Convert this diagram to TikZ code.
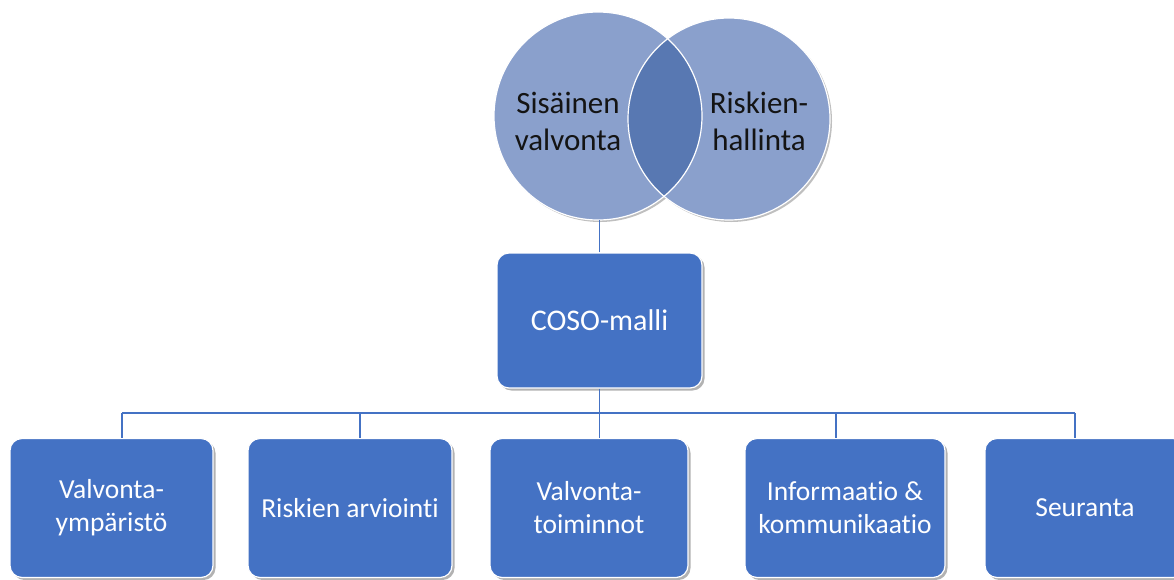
\documentclass[tikz,border=0pt]{standalone}
\usepackage{fontspec}
\setmainfont{Carlito}[Ligatures=NoCommon]
\usetikzlibrary{shadows}
\definecolor{boxblue}{RGB}{68,114,196}
\definecolor{circfill}{RGB}{138,160,204}
\definecolor{circdark}{RGB}{88,120,178}
\definecolor{linecol}{RGB}{68,114,196}
\definecolor{txtdark}{RGB}{20,20,20}
\begin{document}
\begin{tikzpicture}[x=1pt,y=-1pt,
  bluebox/.style={draw=white,line width=1.2pt,fill=boxblue,rounded corners=12pt,
    text=white,align=center,inner sep=0pt,
    drop shadow={shadow xshift=2.5pt,shadow yshift=-2.5pt,fill=black,opacity=.3}},
  venn/.style={circle,fill=circfill,inner sep=0pt,
    drop shadow={shadow xshift=2pt,shadow yshift=-2pt,fill=black,opacity=.25}},
  vennline/.style={draw=white,line width=1.2pt},
  venntext/.style={text=txtdark,align=center,font=\fontsize{31}{37}\selectfont},
  conn/.style={draw=linecol,line width=1.6pt},
  small/.style={font=\fontsize{27.5}{33}\selectfont},
]
\useasboundingbox[fill=white] (0,0) rectangle (1174,579);

% Venn circles
\node[venn,minimum size=208pt] (sv) at (598,116) {};
\node[venn,minimum size=202pt] (rh) at (729,119) {};
\begin{scope}
  \clip (598,116) circle (104);
  \fill[circdark] (729,119) circle (101);
\end{scope}
\draw[vennline] (598,116) circle (104);
\draw[vennline] (729,119) circle (101);
\node[venntext] (svt) at (568,121) {Sisäinen\\valvonta};
\node[venntext] (rht) at (759,121) {Riskien-\\hallinta};

% COSO box
\node[bluebox,minimum width=205pt,minimum height=135pt,font=\fontsize{30}{36}\selectfont] (coso) at (599.5,320.5) {COSO-malli};

% bottom boxes
\node[bluebox,small,minimum width=203pt,minimum height=139pt] (b1) at (111.5,508) {Valvonta-\\ympäristö};
\node[bluebox,small,minimum width=204pt,minimum height=139pt] (b2) at (350,508) {Riskien arviointi};
\node[bluebox,small,minimum width=198pt,minimum height=139pt] (b3) at (589,508) {Valvonta-\\toiminnot};
\node[bluebox,small,minimum width=200pt,minimum height=139pt] (b4) at (845,508) {Informaatio \&\\kommunikaatio};
\node[bluebox,small,minimum width=200pt,minimum height=139pt] (b5) at (1085,508) {Seuranta};

% connectors
\coordinate (d1) at (122,413);
\coordinate (d2) at (360,413);
\coordinate (d3) at (599.5,413);
\coordinate (d4) at (836,413);
\coordinate (d5) at (1075,413);
\draw[conn] (coso.north) -- (coso.north |- sv.south);
\draw[conn] (coso.south) -- (d3);
\draw[conn] (d1) -- (d5);
\draw[conn] (d1) -- (d1 |- b1.north);
\draw[conn] (d2) -- (d2 |- b2.north);
\draw[conn] (d3) -- (d3 |- b3.north);
\draw[conn] (d4) -- (d4 |- b4.north);
\draw[conn] (d5) -- (d5 |- b5.north);
\end{tikzpicture}
\end{document}
